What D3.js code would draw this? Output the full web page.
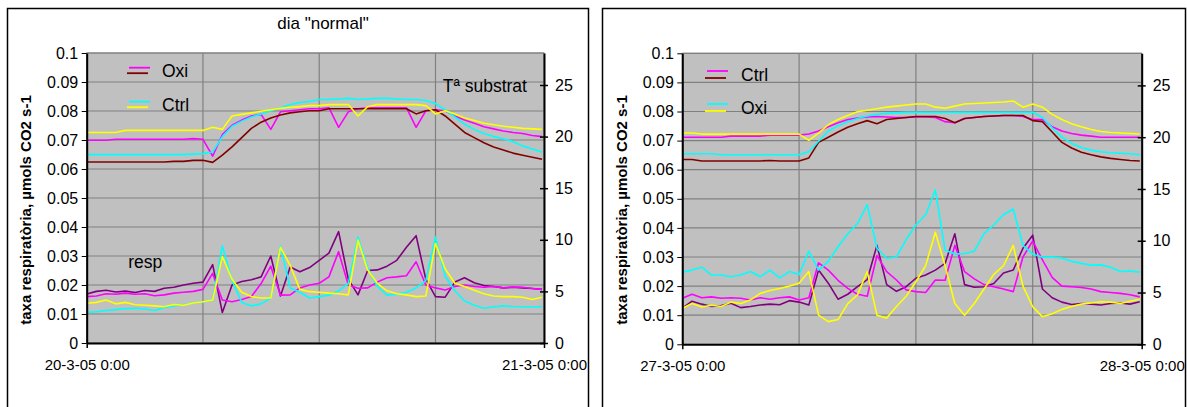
<!DOCTYPE html>
<html>
<head>
<meta charset="utf-8">
<script src="https://cdn.jsdelivr.net/npm/d3@7"></script>
<style>
body { margin: 0; background: #fff; }
svg { display: block; font-family: Arial, "Liberation Sans", sans-serif; }
</style>
</head>
<body>
<svg id="chart" width="1187" height="407"></svg>
<script>
// sample times, hours after midnight (one reading every 30 min)
var hours = d3.range(0, 24, 0.5);

// ---- day 1 : 20-3-05 ("normal") ----
// substrate temperature, right axis (deg C)
var d1TempMagenta = [19.64,19.64,19.64,19.74,19.74,19.74,19.74,19.74,19.74,19.74,19.74,19.8,19.74,18.1,20.2,21.1,21.6,22.0,22.15,20.7,22.4,22.5,22.6,22.7,22.7,22.8,20.9,22.4,22.7,22.8,22.8,22.8,22.8,22.8,20.9,22.5,22.6,22.5,22.0,21.6,21.3,20.95,20.75,20.55,20.4,20.3,20.1,20.0];
var d1TempDarkred = [17.54,17.54,17.54,17.54,17.54,17.54,17.54,17.54,17.54,17.6,17.6,17.7,17.7,17.5,18.2,19.0,19.9,20.8,21.4,21.8,22.1,22.3,22.4,22.5,22.5,22.7,22.7,22.7,22.7,22.7,22.7,22.7,22.7,22.7,22.2,22.5,22.6,22.0,21.2,20.4,19.9,19.4,19.0,18.7,18.4,18.2,18.0,17.8];
var d1TempCyan = [18.25,18.25,18.25,18.25,18.25,18.25,18.25,18.25,18.25,18.25,18.25,18.3,18.35,18.5,20.0,21.0,21.5,21.9,22.2,22.5,22.8,23.1,23.3,23.4,23.6,23.6,23.65,23.7,23.6,23.65,23.7,23.7,23.65,23.6,23.6,23.5,23.2,22.6,21.9,21.2,20.7,20.3,20.0,19.8,19.5,19.1,18.8,18.5];
var d1TempYellow = [20.4,20.4,20.4,20.4,20.6,20.6,20.6,20.6,20.6,20.6,20.6,20.6,20.6,20.9,20.7,22.0,22.15,22.3,22.45,22.6,22.75,22.85,22.9,23.0,23.0,23.1,23.1,23.1,22.0,22.9,23.1,23.1,23.1,23.1,23.1,23.0,22.2,22.5,22.2,21.8,21.55,21.3,21.15,21.0,20.9,20.8,20.75,20.7];
// respiration rate, left axis (umol CO2 s-1)
var d1RespPurple = [0.0169,0.0178,0.0182,0.0176,0.0179,0.0174,0.0181,0.0178,0.0189,0.0192,0.0200,0.0206,0.0210,0.0270,0.0105,0.0200,0.0212,0.0218,0.0228,0.0300,0.0162,0.0262,0.0246,0.0260,0.0285,0.0310,0.0384,0.0220,0.0166,0.0250,0.0252,0.0265,0.0285,0.0330,0.0370,0.0220,0.0160,0.0158,0.0210,0.0225,0.0208,0.0198,0.0195,0.0190,0.0192,0.0190,0.0188,0.0185];
var d1RespMagenta = [0.0160,0.0162,0.0170,0.0168,0.0172,0.0168,0.0170,0.0163,0.0166,0.0172,0.0175,0.0178,0.0185,0.0240,0.0148,0.0142,0.0150,0.0160,0.0205,0.0265,0.0165,0.0166,0.0190,0.0200,0.0206,0.0228,0.0315,0.0200,0.0189,0.0190,0.0210,0.0225,0.0228,0.0232,0.0280,0.0200,0.0190,0.0183,0.0195,0.0200,0.0195,0.0192,0.0195,0.0190,0.0193,0.0192,0.0188,0.0185];
var d1RespCyan = [0.0105,0.0108,0.0112,0.0115,0.0118,0.0120,0.0117,0.0112,0.0122,0.0128,0.0132,0.0138,0.0142,0.0148,0.0335,0.0215,0.0140,0.0128,0.0135,0.0155,0.0335,0.0190,0.0175,0.0155,0.0160,0.0165,0.0180,0.0205,0.0365,0.0260,0.0195,0.0165,0.0168,0.0175,0.0190,0.0215,0.0365,0.0230,0.0180,0.0145,0.0130,0.0120,0.0125,0.0128,0.0126,0.0125,0.0124,0.0126];
var d1RespYellow = [0.0137,0.0140,0.0148,0.0135,0.0140,0.0132,0.0130,0.0128,0.0125,0.0133,0.0130,0.0138,0.0142,0.0148,0.0298,0.0220,0.0175,0.0160,0.0155,0.0155,0.0330,0.0268,0.0185,0.0177,0.0175,0.0172,0.0170,0.0166,0.0355,0.0252,0.0206,0.0180,0.0170,0.0166,0.0160,0.0162,0.0344,0.0255,0.0206,0.0195,0.0182,0.0170,0.0162,0.0160,0.0160,0.0158,0.0150,0.0158];

// ---- day 2 : 27-3-05 ----
var d2TempMagenta = [20.0,20.0,20.0,20.0,20.0,20.1,20.1,20.1,20.1,20.2,20.2,20.2,20.2,20.3,20.6,21.0,21.4,21.7,21.85,21.95,22.0,21.95,21.9,21.9,21.95,21.95,21.9,21.5,21.4,21.8,21.9,22.0,22.05,22.1,22.1,22.0,21.7,21.7,21.0,20.6,20.35,20.2,20.1,20.0,20.0,20.0,20.0,20.0];
var d2TempDarkred = [17.85,17.85,17.7,17.7,17.7,17.7,17.7,17.7,17.7,17.75,17.7,17.7,17.7,18.0,19.5,20.0,20.5,20.95,21.3,21.6,21.3,21.7,21.8,21.9,22.0,22.0,22.0,21.8,21.4,21.8,21.9,22.0,22.05,22.1,22.1,22.1,21.6,21.5,20.5,19.5,18.95,18.55,18.3,18.1,17.95,17.85,17.75,17.7];
var d2TempCyan = [18.4,18.4,18.4,18.4,18.3,18.3,18.3,18.3,18.3,18.3,18.3,18.3,18.3,18.6,19.6,20.6,21.1,21.5,21.8,22.05,22.2,22.3,22.35,22.4,22.4,22.4,22.4,22.4,22.4,22.4,22.4,22.4,22.4,22.4,22.4,22.4,22.4,21.9,20.9,20.0,19.4,19.0,18.75,18.6,18.5,18.45,18.4,18.3];
var d2TempYellow = [20.4,20.4,20.3,20.3,20.3,20.3,20.3,20.3,20.3,20.3,20.3,20.3,20.3,19.7,20.4,21.2,21.7,22.1,22.45,22.6,22.75,22.9,23.0,23.1,23.2,23.2,22.9,22.8,23.0,23.2,23.25,23.3,23.35,23.4,23.5,22.9,23.2,22.9,22.2,21.7,21.3,21.0,20.75,20.55,20.45,20.4,20.35,20.3];
var d2RespPurple = [0.0124,0.0148,0.0138,0.0130,0.0133,0.0141,0.0126,0.0130,0.0135,0.0138,0.0136,0.0150,0.0145,0.0135,0.0255,0.0210,0.0155,0.0172,0.0198,0.0222,0.0340,0.0205,0.0182,0.0198,0.0227,0.0238,0.0255,0.0278,0.0380,0.0205,0.0196,0.0198,0.0209,0.0245,0.0255,0.0330,0.0375,0.0190,0.0160,0.0145,0.0137,0.0140,0.0138,0.0135,0.0140,0.0142,0.0138,0.0146];
var d2RespMagenta = [0.0158,0.0172,0.0160,0.0163,0.0158,0.0160,0.0158,0.0152,0.0160,0.0155,0.0160,0.0163,0.0152,0.0160,0.0280,0.0255,0.0220,0.0192,0.0172,0.0165,0.0305,0.0250,0.0221,0.0187,0.0181,0.0178,0.0221,0.0220,0.0340,0.0250,0.0225,0.0205,0.0198,0.0190,0.0181,0.0300,0.0355,0.0290,0.0230,0.0200,0.0198,0.0195,0.0190,0.0181,0.0178,0.0175,0.0170,0.0163];
var d2RespCyan = [0.0248,0.0255,0.0265,0.0238,0.0238,0.0232,0.0238,0.0250,0.0232,0.0255,0.0228,0.0250,0.0240,0.0320,0.0255,0.0285,0.0335,0.0380,0.0415,0.0480,0.0330,0.0295,0.0300,0.0360,0.0410,0.0445,0.0530,0.0324,0.0310,0.0312,0.0320,0.0380,0.0410,0.0445,0.0465,0.0340,0.0310,0.0299,0.0300,0.0296,0.0285,0.0278,0.0272,0.0273,0.0265,0.0250,0.0252,0.0248];
var d2RespYellow = [0.0124,0.0140,0.0128,0.0134,0.0130,0.0145,0.0140,0.0152,0.0175,0.0185,0.0192,0.0200,0.0210,0.0250,0.0100,0.0078,0.0085,0.0140,0.0170,0.0250,0.0100,0.0090,0.0130,0.0165,0.0215,0.0270,0.0385,0.0270,0.0140,0.0100,0.0140,0.0190,0.0240,0.0270,0.0340,0.0200,0.0129,0.0095,0.0105,0.0120,0.0130,0.0138,0.0142,0.0146,0.0145,0.0140,0.0148,0.0155];

var leftTicks = [0, 0.01, 0.02, 0.03, 0.04, 0.05, 0.06, 0.07, 0.08, 0.09, 0.1];
var rightTicks = [0, 5, 10, 15, 20, 25];
var gridHours = [6, 12, 18];
var yLabel = "taxa respiratòria, µmols CO2 s-1";

var MAGENTA = "#ff00ff", DARKRED = "#800000", CYAN = "#00ffff", YELLOW = "#ffff00", PURPLE = "#800080";
var FONT = "Arial, 'Liberation Sans', sans-serif";

var panels = [
    {
        frame: [7.5, 8.5, 581, 420],
        left: 86.7, right: 544, top: 53, bottom: 343,
        title: 'dia "normal"', titleX: 323,
        dates: ["20-3-05 0:00", "21-3-05 0:00"],
        temp: [[d1TempMagenta, MAGENTA], [d1TempDarkred, DARKRED], [d1TempCyan, CYAN], [d1TempYellow, YELLOW]],
        resp: [[d1RespPurple, PURPLE], [d1RespMagenta, MAGENTA], [d1RespCyan, CYAN], [d1RespYellow, YELLOW]],
        legend: {x: 129, y: 67.7, step: 34, gap: 5.5, textX: 162,
                 items: [["Oxi", MAGENTA, DARKRED], ["Ctrl", CYAN, YELLOW]]},
        notes: [["Tª substrat", 442.7, 91.7], ["resp", 128.3, 268.3]],
        yLabelX: 31
    },
    {
        frame: [602.5, 8.5, 583, 420],
        left: 682.3, right: 1141.7, top: 53.3, bottom: 344.3,
        title: null,
        dates: ["27-3-05 0:00", "28-3-05 0:00"],
        temp: [[d2TempMagenta, MAGENTA], [d2TempDarkred, DARKRED], [d2TempCyan, CYAN], [d2TempYellow, YELLOW]],
        resp: [[d2RespPurple, PURPLE], [d2RespMagenta, MAGENTA], [d2RespCyan, CYAN], [d2RespYellow, YELLOW]],
        legend: {x: 707, y: 71, step: 33, gap: 7, textX: 741,
                 items: [["Ctrl", MAGENTA, DARKRED], ["Oxi", CYAN, YELLOW]]},
        notes: [],
        yLabelX: 627
    }
];

var svg = d3.select("#chart");

function drawPanel(p) {
    var g = svg.append("g");

    g.append("rect")
        .attr("x", p.frame[0]).attr("y", p.frame[1])
        .attr("width", p.frame[2]).attr("height", p.frame[3])
        .attr("fill", "#fff").attr("stroke", "#000").attr("stroke-width", 1.5);

    var x = d3.scaleLinear().domain([0, 23.6]).range([p.left, p.right]);
    var yL = d3.scaleLinear().domain([0, 0.1]).range([p.bottom, p.top]);
    var yR = d3.scaleLinear().domain([0, 28.1]).range([p.bottom, p.top]);

    g.append("rect")
        .attr("x", p.left).attr("y", p.top)
        .attr("width", p.right - p.left).attr("height", p.bottom - p.top)
        .attr("fill", "#c0c0c0").attr("stroke", "#808080").attr("stroke-width", 1);

    g.selectAll(".hgrid").data(leftTicks.slice(1)).enter().append("line")
        .attr("x1", p.left).attr("x2", p.right)
        .attr("y1", function(d){ return yL(d); }).attr("y2", function(d){ return yL(d); })
        .attr("stroke", "#808080").attr("stroke-width", 1.2);

    g.selectAll(".vgrid").data(gridHours).enter().append("line")
        .attr("x1", function(d){ return x(d); }).attr("x2", function(d){ return x(d); })
        .attr("y1", p.top).attr("y2", p.bottom)
        .attr("stroke", "#808080").attr("stroke-width", 1.2);

    var lineR = d3.line().x(function(d, i){ return x(hours[i]); }).y(function(d){ return yR(d); });
    var lineL = d3.line().x(function(d, i){ return x(hours[i]); }).y(function(d){ return yL(d); });

    p.resp.forEach(function(s){
        g.append("path").attr("d", lineL(s[0]))
            .attr("fill", "none").attr("stroke", s[1]).attr("stroke-width", 1.6)
            .attr("stroke-linejoin", "round");
    });
    p.temp.forEach(function(s){
        g.append("path").attr("d", lineR(s[0]))
            .attr("fill", "none").attr("stroke", s[1]).attr("stroke-width", 1.6)
            .attr("stroke-linejoin", "round");
    });

    // left axis
    var ax = g.append("g").attr("transform", "translate(" + p.left + ",0)")
        .call(d3.axisLeft(yL).tickValues(leftTicks).tickFormat(d3.format("~g"))
            .tickSize(5).tickSizeOuter(0).tickPadding(3.5));
    ax.select(".domain").attr("stroke-width", 2);
    ax.selectAll("text").attr("font-size", 16).attr("font-family", FONT).attr("fill", "#000");

    // right axis, ticks crossing the line
    var ar = g.append("g").attr("transform", "translate(" + p.right + ",0)")
        .call(d3.axisRight(yR).tickValues(rightTicks).tickSize(4).tickSizeOuter(0).tickPadding(7));
    ar.select(".domain").attr("stroke-width", 2);
    ar.selectAll(".tick line").attr("x1", -4).attr("stroke-width", 1.5);
    ar.selectAll("text").attr("font-size", 16).attr("font-family", FONT).attr("fill", "#000");

    // bottom axis with the two date labels
    var ab = g.append("g").attr("transform", "translate(0," + p.bottom + ")")
        .call(d3.axisBottom(x).tickValues([0, 23.6])
            .tickFormat(function(d, i){ return p.dates[i]; })
            .tickSize(5).tickSizeOuter(0).tickPadding(11));
    ab.select(".domain").attr("stroke-width", 2);
    ab.selectAll(".tick line").attr("stroke-width", 1.5);
    ab.selectAll("text").attr("font-size", 15).attr("font-family", FONT).attr("fill", "#000");

    g.append("text")
        .attr("transform", "translate(" + p.yLabelX + ",210) rotate(-90)")
        .attr("text-anchor", "middle").attr("font-size", 15).attr("font-weight", "bold")
        .text(yLabel);

    if (p.title) {
        g.append("text").attr("x", p.titleX).attr("y", 29.3)
            .attr("text-anchor", "middle").attr("font-size", 17).text(p.title);
    }

    var lg = p.legend;
    lg.items.forEach(function(it, i){
        var y0 = lg.y + i * lg.step;
        g.append("line").attr("x1", lg.x).attr("x2", lg.x + 21).attr("y1", y0).attr("y2", y0)
            .attr("stroke", it[1]).attr("stroke-width", 1.8);
        g.append("line").attr("x1", lg.x - 2).attr("x2", lg.x + 19).attr("y1", y0 + lg.gap).attr("y2", y0 + lg.gap)
            .attr("stroke", it[2]).attr("stroke-width", 1.8);
        g.append("text").attr("x", lg.textX).attr("y", y0 + 9.7)
            .attr("font-size", 17.5).text(it[0]);
    });

    p.notes.forEach(function(n){
        g.append("text").attr("x", n[1]).attr("y", n[2]).attr("font-size", 17.5).text(n[0]);
    });
}

panels.forEach(drawPanel);
</script>
</body>
</html>
